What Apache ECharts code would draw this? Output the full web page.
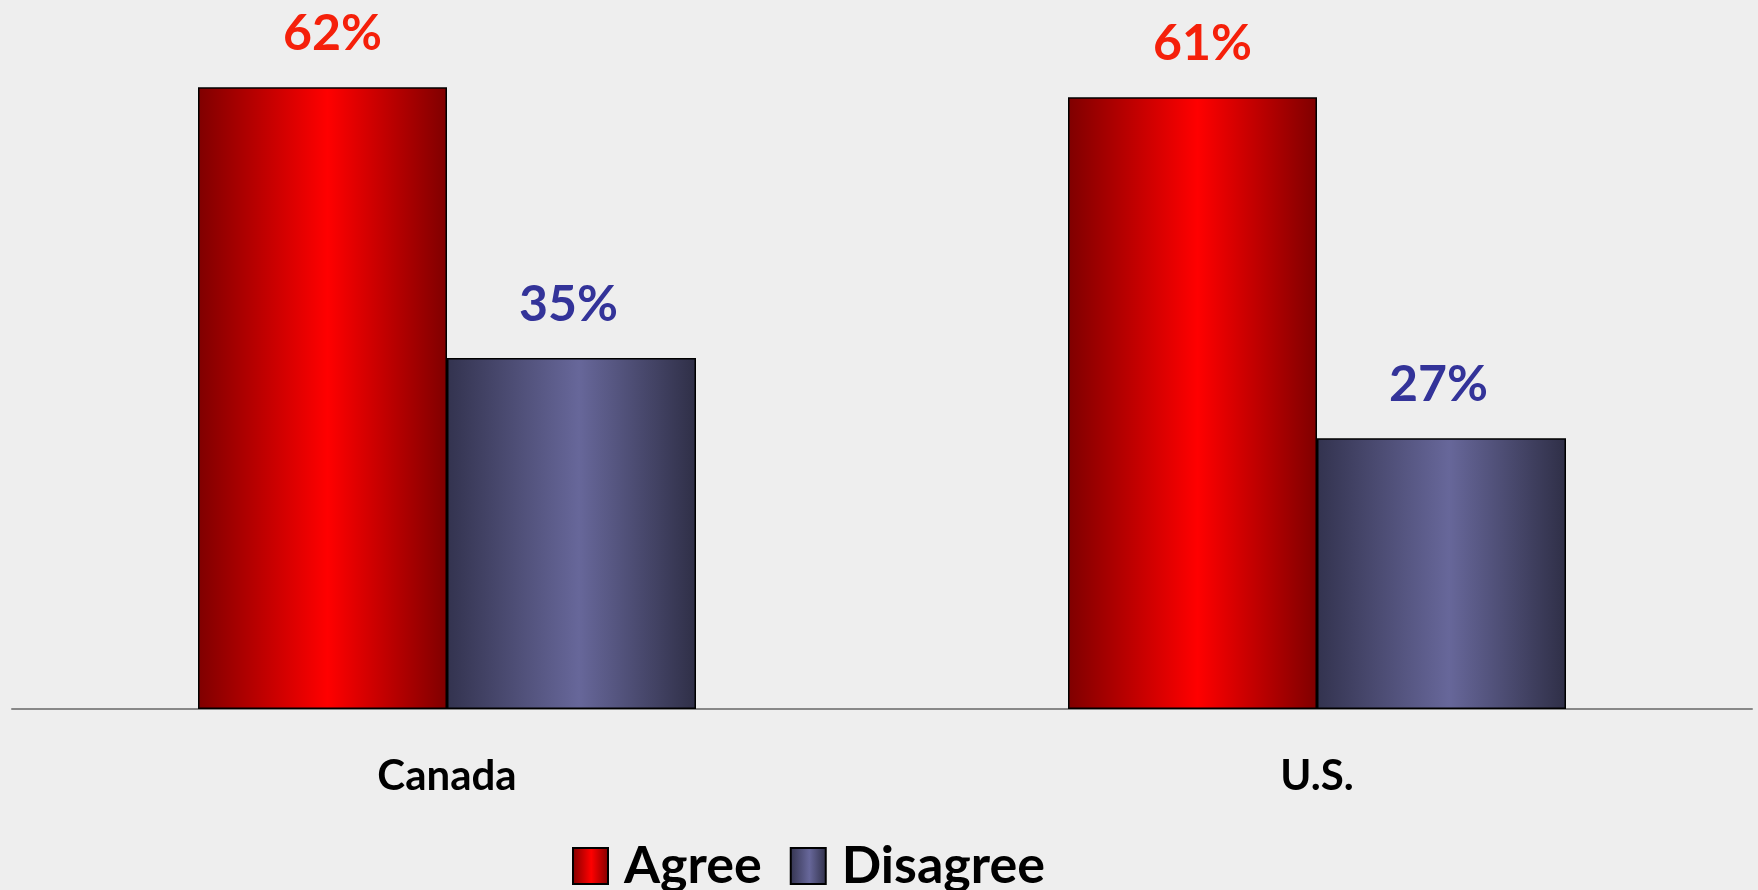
<!DOCTYPE html>
<html>
<head>
<meta charset="utf-8">
<script src="https://cdn.jsdelivr.net/npm/echarts@6/dist/echarts.min.js"></script>
<style>
html,body{margin:0;padding:0;background:#eeeeee;}
#chart{width:1758px;height:890px;}
</style>
</head>
<body>
<div id="chart"></div>
<script>
var categories = ['Canada', 'U.S.'];
var agreeValues = [62, 61];
var disagreeValues = [35, 27];
var seriesNames = ['Agree', 'Disagree'];

function grad(stops) {
  return new echarts.graphic.LinearGradient(0, 0, 1, 0, stops);
}
var redGrad = grad([
  {offset: 0, color: '#7f0000'},
  {offset: 0.52, color: '#ff0000'},
  {offset: 1, color: '#7f0000'}
]);
var blueGrad = grad([
  {offset: 0, color: '#33334f'},
  {offset: 0.53, color: '#67679a'},
  {offset: 1, color: '#2f2f47'}
]);

var chart = echarts.init(document.getElementById('chart'));
chart.setOption({
  backgroundColor: '#eeeeee',
  animation: false,
  textStyle: {fontFamily: 'Lato'},
  grid: {left: 12, right: 6, top: 7, bottom: 181, containLabel: false},
  legend: {
    data: seriesNames,
    top: 835,
    left: 567,
    icon: 'rect',
    itemWidth: 35,
    itemHeight: 36,
    itemGap: 28,
    textStyle: {fontSize: 52, fontWeight: 'bold', color: '#000', fontFamily: 'Lato', padding: [0, 0, 0, 11]}
  },
  xAxis: {
    type: 'category',
    data: categories,
    axisLine: {lineStyle: {color: '#888888', width: 2}},
    axisTick: {show: false},
    axisLabel: {fontSize: 42, fontWeight: 'bold', color: '#000', margin: 46, fontFamily: 'Lato'}
  },
  yAxis: {
    type: 'value',
    min: 0,
    max: 70,
    show: false,
    splitLine: {show: false}
  },
  series: [
    {
      name: seriesNames[0],
      type: 'bar',
      data: agreeValues,
      barWidth: 249,
      barGap: '0%',
      itemStyle: {color: redGrad, borderColor: '#000', borderWidth: 1.5},
      label: {show: true, position: 'top', distance: 28, offset: [10, 0], formatter: '{c}%', fontSize: 50, fontWeight: 'bold', color: '#f5200a', fontFamily: 'Lato'}
    },
    {
      name: seriesNames[1],
      type: 'bar',
      data: disagreeValues,
      barWidth: 249,
      barGap: '0%',
      itemStyle: {color: blueGrad, borderColor: '#000', borderWidth: 1.5},
      label: {show: true, position: 'top', distance: 28, offset: [-3, 0], formatter: '{c}%', fontSize: 50, fontWeight: 'bold', color: '#333399', fontFamily: 'Lato'}
    }
  ]
});
</script>
</body>
</html>
